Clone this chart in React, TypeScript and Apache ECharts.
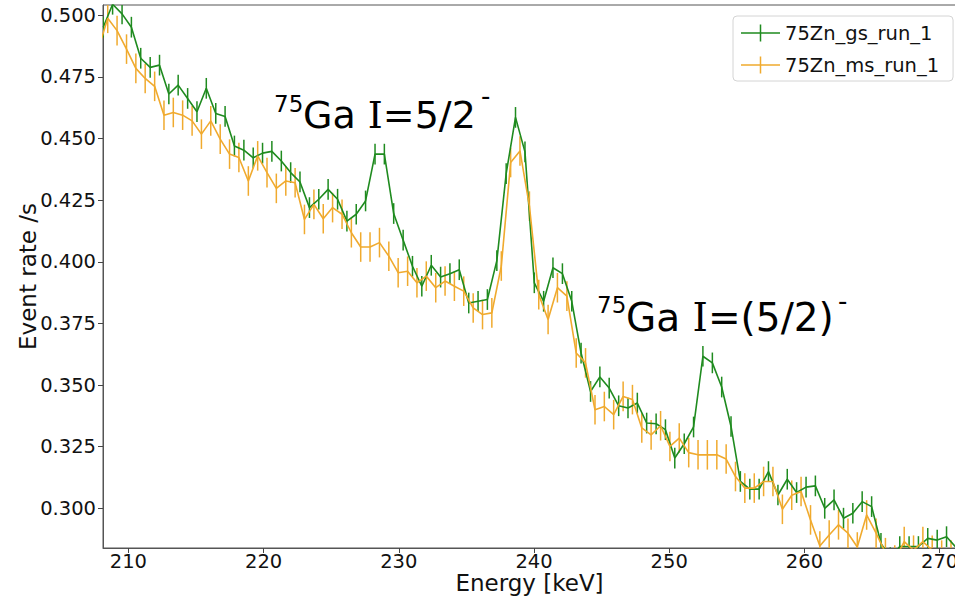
import React, { useEffect, useRef } from "react";
import * as echarts from "echarts";

// ---- data ----
const GS_NAME = "75Zn_gs_run_1";
const MS_NAME = "75Zn_ms_run_1";

const GS_ENERGY = [
  208.14, 208.83, 209.53, 210.22, 210.91, 211.61, 212.3, 212.99, 213.68, 214.38,
  215.07, 215.76, 216.46, 217.15, 217.84, 218.54, 219.23, 219.92, 220.61, 221.31,
  222.0, 222.69, 223.39, 224.08, 224.77, 225.47, 226.16, 226.85, 227.54, 228.24,
  228.93, 229.62, 230.32, 231.01, 231.7, 232.4, 233.09, 233.78, 234.47, 235.17,
  235.86, 236.55, 237.25, 237.94, 238.63, 239.33, 240.02, 240.71, 241.4, 242.1,
  242.79, 243.48, 244.18, 244.87, 245.56, 246.26, 246.95, 247.64, 248.33, 249.03,
  249.72, 250.41, 251.11, 251.8, 252.49, 253.19, 253.88, 254.57, 255.26, 255.96,
  256.65, 257.34, 258.04, 258.73, 259.42, 260.12, 260.81, 261.5, 262.19, 262.89,
  263.58, 264.27, 264.97, 265.66, 266.35, 267.05, 267.74, 268.43, 269.12, 269.82,
  270.51, 271.2,
];
const GS_RATE = [
  0.4952, 0.5045, 0.5006, 0.4952, 0.4826, 0.4789, 0.4798, 0.4681, 0.4717, 0.4663,
  0.4609, 0.4704, 0.4602, 0.459, 0.447, 0.4453, 0.4422, 0.4441, 0.4448, 0.4409,
  0.4362, 0.4324, 0.422, 0.4254, 0.4294, 0.4254, 0.4165, 0.4193, 0.4247, 0.4437,
  0.4437, 0.4196, 0.4088, 0.3982, 0.3901, 0.3986, 0.3938, 0.3952, 0.3968, 0.3833,
  0.384, 0.3847, 0.4005, 0.4358, 0.4586, 0.4446, 0.3915, 0.384, 0.3976, 0.3952,
  0.384, 0.363, 0.3474, 0.3533, 0.3488, 0.3416, 0.3407, 0.3427, 0.3346, 0.3343,
  0.3319, 0.3204, 0.3262, 0.333, 0.3617, 0.359, 0.3492, 0.3332, 0.3109, 0.3078,
  0.3078, 0.3149, 0.3054, 0.3118, 0.3064, 0.3086, 0.3091, 0.3, 0.3034, 0.296,
  0.298, 0.3027, 0.3007, 0.2858, 0.28, 0.2845, 0.2845, 0.2845, 0.2878, 0.2871,
  0.2885, 0.2842,
];

const MS_ENERGY = [
  207.81, 208.47, 209.16, 209.86, 210.55, 211.24, 211.94, 212.63, 213.32, 214.01,
  214.71, 215.4, 216.09, 216.79, 217.48, 218.17, 218.87, 219.56, 220.25, 220.94,
  221.64, 222.33, 223.02, 223.72, 224.41, 225.1, 225.8, 226.49, 227.18, 227.87,
  228.57, 229.26, 229.95, 230.65, 231.34, 232.03, 232.73, 233.42, 234.11, 234.8,
  235.5, 236.19, 236.88, 237.58, 238.27, 238.96, 239.66, 240.35, 241.04, 241.73,
  242.43, 243.12, 243.81, 244.51, 245.2, 245.89, 246.59, 247.28, 247.97, 248.66,
  249.36, 250.05, 250.74, 251.44, 252.13, 252.82, 253.52, 254.21, 254.9, 255.59,
  256.29, 256.98, 257.67, 258.37, 259.06, 259.75, 260.45, 261.14, 261.83, 262.52,
  263.22, 263.91, 264.6, 265.3, 265.99, 266.68, 267.38, 268.07, 268.76, 269.45,
  270.15, 270.84,
];
const MS_RATE = [
  0.487, 0.4988, 0.4938, 0.4863, 0.4785, 0.4744, 0.4712, 0.4595, 0.4606, 0.4595,
  0.4572, 0.4518, 0.4572, 0.4498, 0.4437, 0.4423, 0.4328, 0.443, 0.4362, 0.4298,
  0.4328, 0.4321, 0.4172, 0.4233, 0.4175, 0.422, 0.4193, 0.4118, 0.406, 0.406,
  0.4078, 0.4023, 0.3956, 0.3962, 0.3915, 0.3942, 0.3895, 0.3922, 0.3901, 0.3881,
  0.3813, 0.3786, 0.3793, 0.3983, 0.4403, 0.445, 0.4226, 0.3867, 0.3766, 0.3895,
  0.3861, 0.363, 0.359, 0.34, 0.3413, 0.338, 0.3454, 0.3441, 0.3326, 0.3298,
  0.3335, 0.3251, 0.3285, 0.3226, 0.3217, 0.3217, 0.3217, 0.32, 0.3129, 0.3082,
  0.3082, 0.3109, 0.3109, 0.2996, 0.3053, 0.3068, 0.2953, 0.2847, 0.2892, 0.2933,
  0.2899, 0.2843, 0.2973, 0.2899, 0.282, 0.279, 0.2865, 0.283, 0.2865, 0.283,
  0.281, 0.281,
];

const GS_ERR = 0.0042;
const MS_ERR = 0.006;

const X_TICKS = [210, 220, 230, 240, 250, 260, 270];
const Y_TICKS = [0.3, 0.325, 0.35, 0.375, 0.4, 0.425, 0.45, 0.475, 0.5];

const X_MIN = 208.12;
const X_MAX = 271.21;
const Y_MIN = 0.2839;
const Y_MAX = 0.5042;

const GS_COLOR = "#1f8b1f";
const MS_COLOR = "#f0aa2e";
const FONT = "DejaVu Sans";
const SERIF = "DejaVu Serif";
const CROSS =
  "path://M0,7.75 L39,7.75 L39,9.25 L0,9.25 Z M18.75,0 L20.25,0 L20.25,17 L18.75,17 Z";

function errSeries(name: string, data: number[][], err: number, color: string) {
  return {
    type: "custom",
    name,
    data,
    clip: true,
    silent: true,
    renderItem: (_params: any, api: any) => {
      const x = api.value(0) as number;
      const y = api.value(1) as number;
      const p1 = api.coord([x, y + err]);
      const p2 = api.coord([x, y - err]);
      return {
        type: "line",
        shape: { x1: p1[0], y1: p1[1], x2: p2[0], y2: p2[1] },
        style: { stroke: color, lineWidth: 1.5 },
      };
    },
  };
}

function txt(text: string, x: number, y: number, size: number, rich?: any) {
  return {
    type: "text",
    x,
    y,
    silent: true,
    style: {
      text,
      fontFamily: FONT,
      fontSize: size,
      fill: "#000",
      align: "left",
      verticalAlign: "middle",
      textAlign: "left",
      textVerticalAlign: "middle",
      rich,
    },
  };
}

const ANN_RICH = {
  a: { fontFamily: FONT, fontSize: 38, color: "#000" },
  b: { fontFamily: SERIF, fontSize: 38, color: "#000" },
};
const ANN_RICH2 = {
  a: { fontFamily: FONT, fontSize: 39, color: "#000" },
  b: { fontFamily: SERIF, fontSize: 39, color: "#000" },
};

export default function App() {
  const ref = useRef<HTMLDivElement>(null);
  useEffect(() => {
    if (!ref.current) return;
    const chart = echarts.init(ref.current, null, { renderer: "svg" });
    const gsData = GS_ENERGY.map((e, i) => [e, GS_RATE[i]]);
    const msData = MS_ENERGY.map((e, i) => [e, MS_RATE[i]]);
    const option: any = {
      animation: false,
      backgroundColor: "#fff",
      grid: {
        left: 103,
        top: 5,
        width: 853,
        height: 543,
        show: true,
        borderColor: "#555",
        borderWidth: 1,
        containLabel: false,
        outerBoundsMode: "none",
      },
      xAxis: {
        type: "value",
        min: X_MIN,
        max: X_MAX,
        name: "Energy [keV]",
        nameLocation: "middle",
        nameGap: 23,
        nameMoveOverlap: false,
        nameTextStyle: { fontFamily: FONT, fontSize: 23, color: "#111" },
        axisLine: { show: true, lineStyle: { color: "#555", width: 1 } },
        axisTick: {
          show: true,
          inside: false,
          length: 5,
          customValues: X_TICKS,
          lineStyle: { color: "#444" },
        },
        axisLabel: {
          customValues: X_TICKS,
          margin: 3,
          fontFamily: FONT,
          fontSize: 19.5,
          color: "#111",
          formatter: (v: number) => String(Math.round(v)),
        },
        splitLine: { show: false },
      },
      yAxis: {
        type: "value",
        min: Y_MIN,
        max: Y_MAX,
        name: "Event rate /s",
        nameLocation: "middle",
        nameGap: 64,
        nameMoveOverlap: false,
        nameRotate: 90,
        nameTextStyle: { fontFamily: FONT, fontSize: 23, color: "#111" },
        axisLine: { show: true, lineStyle: { color: "#555", width: 1 } },
        axisTick: {
          show: true,
          inside: false,
          length: 5,
          customValues: Y_TICKS,
          lineStyle: { color: "#444" },
        },
        axisLabel: {
          customValues: Y_TICKS,
          margin: 7,
          fontFamily: FONT,
          fontSize: 19.5,
          color: "#111",
          formatter: (v: number) => v.toFixed(3),
        },
        splitLine: { show: false },
      },
      legend: {
        orient: "vertical",
        left: 733,
        top: 16,
        data: [
          { name: GS_NAME, icon: CROSS },
          { name: MS_NAME, icon: CROSS },
        ],
        itemWidth: 39,
        itemHeight: 17,
        itemGap: 12,
        padding: [7, 14, 6, 8],
        borderColor: "#d4d4d4",
        borderWidth: 1,
        borderRadius: 4,
        backgroundColor: "rgba(255,255,255,0.85)",
        textStyle: { fontFamily: FONT, fontSize: 19.5, color: "#111" },
        selectedMode: false,
      },
      graphic: [
        txt("75", 274, 104, 23),
        txt("{a|Ga }{b|I}{a|=5/2}", 303, 115, 38, ANN_RICH),
        txt("-", 481, 96, 26),
        txt("75", 597, 305, 23),
        txt("{a|Ga }{b|I}{a|=(5/2)}", 626, 317.5, 39, ANN_RICH2),
        txt("-", 838, 301, 26),
      ],
      series: [
        {
          type: "line",
          name: GS_NAME,
          data: gsData,
          showSymbol: false,
          symbol: "none",
          clip: true,
          itemStyle: { color: GS_COLOR },
          lineStyle: { color: GS_COLOR, width: 1.6 },
        },
        errSeries("gs_err", gsData, GS_ERR, GS_COLOR),
        {
          type: "line",
          name: MS_NAME,
          data: msData,
          showSymbol: false,
          symbol: "none",
          clip: true,
          itemStyle: { color: MS_COLOR },
          lineStyle: { color: MS_COLOR, width: 1.6 },
        },
        errSeries("ms_err", msData, MS_ERR, MS_COLOR),
      ],
    };
    chart.setOption(option);
    return () => chart.dispose();
  }, []);
  return (
    <div
      ref={ref}
      style={{ position: "fixed", left: 0, top: 0, width: 955, height: 601, background: "#fff" }}
    />
  );
}
